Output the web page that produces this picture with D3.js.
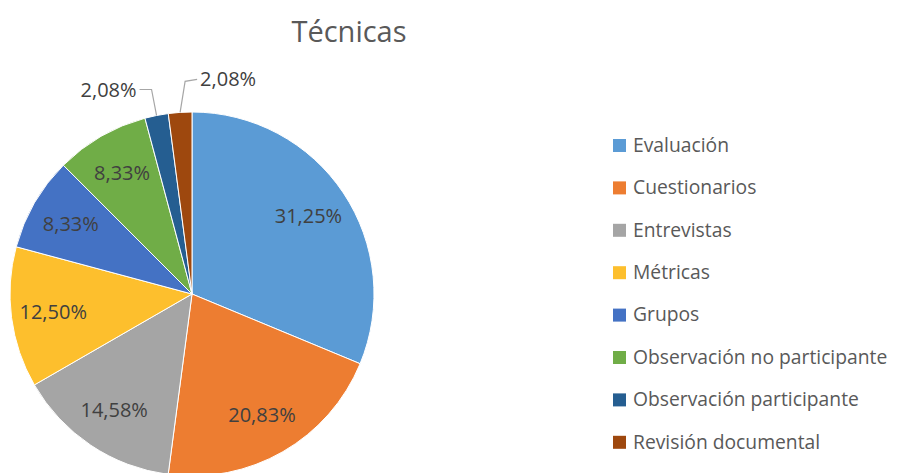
<!DOCTYPE html>
<html lang="es">
<head>
    <meta charset="UTF-8">
    <script src="https://d3js.org/d3.v7.min.js"></script>
    <title>Técnicas</title>
    <style>
        body { margin: 0; background: #fff; font-family: "Open Sans", sans-serif; }
        svg { display: block; }
    </style>
</head>
<body>
    <div id="chart"></div>
    <script>
        // Data
        const categories = ["Evaluación", "Cuestionarios", "Entrevistas", "Métricas", "Grupos",
            "Observación no participante", "Observación participante", "Revisión documental"];
        const percentages = [31.25, 20.83, 14.58, 12.50, 8.33, 8.33, 2.08, 2.08];
        const colors = ["#5b9bd5", "#ed7d31", "#a5a5a5", "#fdbf2d", "#4472c4", "#70ad47", "#255e91", "#9e480e"];
        // small slices get an outside label with a leader line
        const outside = [false, false, false, false, false, false, true, true];

        const width = 897, height = 473;
        const cx = 192, cy = 294, r = 182;

        const data = categories.map((c, i) => ({ name: c, value: percentages[i], color: colors[i], outside: outside[i] }));

        const svg = d3.select("#chart").append("svg")
            .attr("width", width)
            .attr("height", height);

        svg.append("text")
            .attr("x", 349)
            .attr("y", 42)
            .attr("text-anchor", "middle")
            .style("font-size", "29px")
            .style("fill", "#595959")
            .text("Técnicas");

        const pie = d3.pie().sort(null).value(d => d.value);
        const arcs = pie(data);
        const arc = d3.arc().innerRadius(0).outerRadius(r);
        const labelArc = d3.arc().innerRadius(140).outerRadius(140);

        const g = svg.append("g").attr("transform", `translate(${cx},${cy})`);

        g.selectAll("path")
            .data(arcs)
            .join("path")
            .attr("d", arc)
            .attr("fill", d => d.data.color)
            .attr("stroke", "#fff")
            .attr("stroke-width", 1);

        const fmt = v => v.toFixed(2).replace(".", ",") + "%";

        // inside labels
        g.selectAll("text.inside")
            .data(arcs.filter(d => !d.data.outside))
            .join("text")
            .attr("class", "inside")
            .attr("transform", d => `translate(${labelArc.centroid(d)})`)
            .attr("text-anchor", "middle")
            .attr("dy", "0.35em")
            .style("font-size", "20px")
            .style("fill", "#404040")
            .text(d => fmt(d.data.value));

        // outside labels with leader lines
        const small = arcs.filter(d => d.data.outside);
        small.forEach((d, i) => {
            const a = (d.startAngle + d.endAngle) / 2;
            const edge = [Math.sin(a) * r, -Math.cos(a) * r];
            const side = i === 0 ? -1 : 1;
            const rise = i === 0 ? 26 : 31;
            const elbow = [edge[0] + side * 5, edge[1] - rise];
            const end = [elbow[0] + side * 12, elbow[1] - (i === 0 ? 0 : 2)];
            g.append("polyline")
                .attr("points", [edge, elbow, end].map(p => p.join(",")).join(" "))
                .attr("fill", "none")
                .attr("stroke", "#a6a6a6")
                .attr("stroke-width", 1.2);
            g.append("text")
                .attr("x", end[0] + side * 3)
                .attr("y", end[1])
                .attr("dy", "0.35em")
                .attr("text-anchor", side < 0 ? "end" : "start")
                .style("font-size", "20px")
                .style("fill", "#404040")
                .text(fmt(d.data.value));
        });

        // legend
        const legend = svg.append("g").attr("transform", "translate(613,145)");
        const row = legend.selectAll("g")
            .data(data)
            .join("g")
            .attr("transform", (d, i) => `translate(0,${i * 42.4})`);
        row.append("rect")
            .attr("x", 0)
            .attr("y", -6)
            .attr("width", 13)
            .attr("height", 13)
            .attr("fill", d => d.color);
        row.append("text")
            .attr("x", 20)
            .attr("dy", "0.35em")
            .style("font-size", "19.3px")
            .style("fill", "#595959")
            .text(d => d.name);
    </script>
</body>
</html>
